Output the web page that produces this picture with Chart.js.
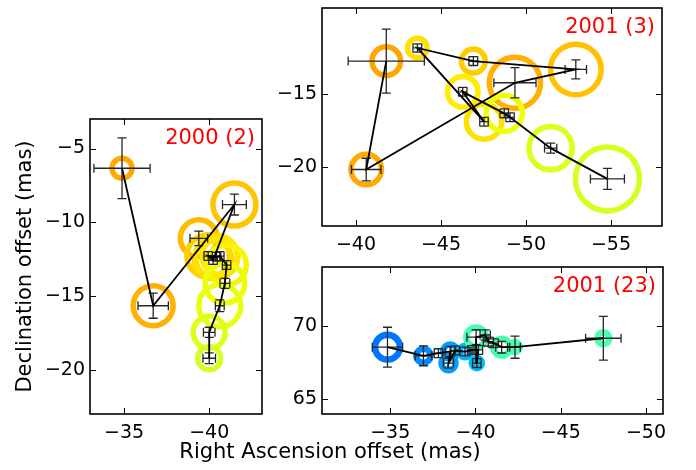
<!DOCTYPE html>
<html>
<head>
<meta charset="utf-8">
<script src="https://cdn.jsdelivr.net/npm/chart.js@4.4.1/dist/chart.umd.min.js"></script>
<style>
  body { margin: 0; background: #fff; }
  #fig { position: relative; width: 696px; height: 470px; overflow: hidden; }
  canvas { position: absolute; }
</style>
</head>
<body>
<div id="fig">
  <canvas id="c2000" width="300" height="470" style="left:0;top:0"></canvas>
  <canvas id="c2001a" width="456" height="280" style="left:240px;top:-20px"></canvas>
  <canvas id="c2001b" width="696" height="230" style="left:0;top:240px"></canvas>
</div>
<script>
// Maser spot positions per epoch: offsets (mas), errors (mas), flux, velocity (km/s)
// track* = order in which the spots are joined by the black line

// 2000, epoch 2
const ra2000 = [-34.88, -36.71, -41.48, -39.39, -39.94, -40.23, -40.43, -40.62, -41.02, -40.92, -40.62, -40.0, -40.0];
const dec2000 = [-6.34, -15.66, -8.8, -11.09, -12.29, -12.56, -12.34, -12.29, -12.9, -14.14, -15.66, -17.46, -19.22];
const raErr2000 = [1.65, 0.89, 0.7, 0.52, 0.25, 0.25, 0.25, 0.25, 0.25, 0.29, 0.26, 0.34, 0.37];
const decErr2000 = [2.06, 0.85, 0.71, 0.49, 0.3, 0.3, 0.3, 0.3, 0.3, 0.34, 0.4, 0.34, 0.37];
const flux2000 = [1.0, 4.0, 4.62, 3.42, 4.54, 3.53, 4.54, 3.17, 3.92, 3.92, 4.41, 2.56, 1.32];
const vel2000 = [16.5, 16.2, 15.15, 15.6, 14.5, 14.0, 13.6, 13.2, 12.55, 12.05, 11.6, 11.1, 10.4];
const track2000 = [0, 1, 2, 5, 4, 6, 7, 8, 9, 10, 11, 12];

// 2001, epoch 3
const ra2001a = [-41.78, -40.6, -43.61, -46.9, -52.93, -49.35, -46.28, -47.53, -48.72, -49.06, -51.45, -54.79];
const dec2001a = [-12.73, -20.14, -11.83, -12.73, -13.3, -14.21, -14.83, -16.87, -16.3, -16.57, -18.68, -20.78];
const raErr2001a = [2.24, 0.87, 0.26, 0.26, 0.63, 1.24, 0.25, 0.25, 0.25, 0.25, 0.36, 1.0];
const decErr2001a = [2.19, 0.77, 0.28, 0.3, 0.65, 1.03, 0.3, 0.3, 0.3, 0.3, 0.34, 0.72];
const flux2001a = [2.04, 2.34, 0.96, 1.44, 6.4, 6.55, 2.34, 3.1, 3.28, 0, 4.67, 10.24];
const vel2001a = [16.75, 16.5, 13.6, 14.7, 15.3, 16.2, 13.0, 13.6, 12.0, 12.0, 10.85, 10.4];
const track2001a = [0, 1, 5, 4, 3, 2, 7, 6, 8, 9, 10, 11];

// 2001, epoch 23
const ra2001b = [-34.84, -36.95, -37.83, -38.52, -38.42, -38.81, -39.39, -39.8, -40.17, -40.08, -40.04, -40.57, -40.76, -41.05, -41.54, -42.32, -47.5];
const dec2001b = [68.57, 67.98, 68.16, 68.27, 67.48, 68.34, 68.27, 68.38, 68.38, 67.48, 69.25, 69.4, 68.95, 68.84, 68.57, 68.57, 69.18];
const raErr2001b = [0.89, 0.49, 0.25, 0.3, 0.3, 0.25, 0.3, 0.25, 0.25, 0.25, 0.54, 0.3, 0.3, 0.3, 0.35, 0.31, 1.04];
const decErr2001b = [1.36, 0.68, 0.3, 0.35, 0.35, 0.3, 0.3, 0.3, 0.3, 0.3, 0.51, 0.35, 0.3, 0.3, 0.4, 0.76, 1.5];
const flux2001b = [1.55, 0.5, 0, 0.5, 0.5, 0, 0.33, 0, 0, 0.26, 0.95, 0, 0, 0, 0.71, 0.23, 0.35];
const vel2001b = [-7.9, -7.0, -6.5, -6.0, -6.0, -5.5, -4.75, -4.75, -4.75, -4.5, 1.5, 1.5, 1.7, 1.8, 1.8, 2.0, 2.0];
const track2001b = [0, 1, 2, 3, 4, 5, 6, 7, 8, 9, 10, 11, 12, 13, 14, 15, 16];

// axis limits and ticks
const xLim2000 = [-43.1, -33];
const yLim2000 = [-23, -3];
const xTicks2000 = [-35, -40];
const yTicks2000 = [-5, -10, -15, -20];

const xLim2001a = [-58, -38];
const yLim2001a = [-24, -9.1];
const xTicks2001a = [-40, -45, -50, -55];
const yTicks2001a = [-15, -20];

const xLim2001b = [-51, -31];
const yLim2001b = [64, 74.05];
const xTicks2001b = [-35, -40, -45, -50];
const yTicks2001b = [65, 70];

const VEL_MIN = -20;
const VEL_MAX = 30;

// Constants --------------------
const FONT = "'DejaVu Sans', sans-serif";
const CAP = 4.5;
const TICK_LEN = 6;

// matplotlib jet
const JET = {
  r: [[0, 0], [0.35, 0], [0.66, 1], [0.89, 1], [1, 0.5]],
  g: [[0, 0], [0.125, 0], [0.375, 1], [0.64, 1], [0.91, 0], [1, 0]],
  b: [[0, 0.5], [0.11, 1], [0.34, 1], [0.65, 0], [1, 0]],
};

const lerpStops = (stops, t) => {
  for (let i = 1; i < stops.length; i++) {
    const [x0, y0] = stops[i - 1];
    const [x1, y1] = stops[i];
    if (t <= x1) return y0 + ((y1 - y0) * (t - x0)) / (x1 - x0);
  }
  return stops[stops.length - 1][1];
};

const jet = v => {
  const t = Math.min(1, Math.max(0, (v - VEL_MIN) / (VEL_MAX - VEL_MIN)));
  const c = k => Math.round(255 * lerpStops(JET[k], t));
  return `rgb(${c('r')}, ${c('g')}, ${c('b')})`;
};

const minus = v => (v < 0 ? '\u2212' + Math.abs(v) : String(v));

// Plugins ----------------------
// error bars go on top of the rings (dataset 1) but under the track line
const errorBars = p => ({
  id: 'errorBars',
  afterDatasetDraw(chart, args) {
    if (args.index !== 1) return;
    const { ctx, scales: { x, y } } = chart;
    ctx.save();
    ctx.strokeStyle = '#262626';
    ctx.lineWidth = 1.3;
    ctx.beginPath();
    p.ra.forEach((ra, i) => {
      const px = x.getPixelForValue(ra);
      const py = y.getPixelForValue(p.dec[i]);
      const x0 = x.getPixelForValue(ra - p.raErr[i]);
      const x1 = x.getPixelForValue(ra + p.raErr[i]);
      const y0 = y.getPixelForValue(p.dec[i] - p.decErr[i]);
      const y1 = y.getPixelForValue(p.dec[i] + p.decErr[i]);
      ctx.moveTo(x0, py);
      ctx.lineTo(x1, py);
      ctx.moveTo(px, y0);
      ctx.lineTo(px, y1);
      [x0, x1].forEach(cx => {
        ctx.moveTo(cx, py - CAP);
        ctx.lineTo(cx, py + CAP);
      });
      [y0, y1].forEach(cy => {
        ctx.moveTo(px - CAP, cy);
        ctx.lineTo(px + CAP, cy);
      });
    });
    ctx.stroke();
    ctx.restore();
  },
});

// box round the axes, ticks pointing inwards on all four sides
const frame = {
  id: 'frame',
  afterDatasetsDraw(chart) {
    const { ctx, chartArea: a, scales: { x, y } } = chart;
    ctx.save();
    ctx.strokeStyle = '#000';
    ctx.lineWidth = 1;
    ctx.beginPath();
    x.ticks.forEach(t => {
      const px = Math.round(x.getPixelForValue(t.value)) + 0.5;
      ctx.moveTo(px, a.bottom);
      ctx.lineTo(px, a.bottom - TICK_LEN);
      ctx.moveTo(px, a.top);
      ctx.lineTo(px, a.top + TICK_LEN);
    });
    y.ticks.forEach(t => {
      const py = Math.round(y.getPixelForValue(t.value)) + 0.5;
      ctx.moveTo(a.left, py);
      ctx.lineTo(a.left + TICK_LEN, py);
      ctx.moveTo(a.right, py);
      ctx.lineTo(a.right - TICK_LEN, py);
    });
    ctx.stroke();
    ctx.lineWidth = 1.6;
    ctx.strokeRect(a.left, a.top, a.right - a.left, a.bottom - a.top);
    ctx.restore();
  },
};

const panelLabel = text => ({
  id: 'panelLabel',
  afterDraw(chart) {
    const { ctx, chartArea: a } = chart;
    ctx.save();
    ctx.font = `21px ${FONT}`;
    ctx.fillStyle = '#ff0000';
    ctx.textAlign = 'right';
    ctx.textBaseline = 'middle';
    ctx.fillText(text, a.right - 7, a.top + 20);
    ctx.restore();
  },
});

const raTitle = {
  id: 'raTitle',
  afterDraw(chart) {
    const { ctx } = chart;
    ctx.save();
    ctx.font = `21px ${FONT}`;
    ctx.fillStyle = '#000';
    ctx.textAlign = 'center';
    ctx.textBaseline = 'middle';
    ctx.fillText('Right Ascension offset (mas)', 330, 213);
    ctx.restore();
  },
};

// Chart builder ----------------
const makePanel = (id, p) => {
  const points = p.ra.map((ra, i) => ({ x: ra, y: p.dec[i] }));
  const tickFont = { family: FONT, size: 19 };

  return new Chart(document.getElementById(id), {
    type: 'scatter',
    data: {
      datasets: [
        {
          data: p.track.map(i => points[i]),
          showLine: true,
          borderColor: '#000',
          borderWidth: 1.8,
          pointRadius: 0,
          tension: 0,
          order: 1,
        },
        {
          data: points,
          pointRadius: p.flux.map(f => 10 * Math.sqrt(f)),
          pointBorderColor: p.vel.map(jet),
          pointBackgroundColor: 'rgba(0, 0, 0, 0)',
          pointBorderWidth: p.ringWidth,
          order: 2,
        },
      ],
    },
    options: {
      responsive: false,
      animation: false,
      events: [],
      layout: { padding: p.padding, autoPadding: false },
      plugins: { legend: { display: false }, tooltip: { enabled: false } },
      scales: {
        x: {
          type: 'linear',
          min: p.xLim[0],
          max: p.xLim[1],
          reverse: true,
          grid: { display: false, drawTicks: false },
          border: { display: false },
          ticks: { font: tickFont, color: '#000', padding: 8, maxRotation: 0, autoSkip: false, callback: minus },
          afterBuildTicks: s => {
            s.ticks = p.xTicks.map(value => ({ value }));
          },
          afterFit: s => {
            s.height = 30;
          },
        },
        y: {
          type: 'linear',
          min: p.yLim[0],
          max: p.yLim[1],
          grid: { display: false, drawTicks: false },
          border: { display: false },
          ticks: { font: tickFont, color: '#000', padding: 5, autoSkip: false, callback: minus },
          title: p.yTitle
            ? { display: true, text: p.yTitle, color: '#000', font: { family: FONT, size: 21 }, padding: { top: 13, bottom: 0 } }
            : { display: false },
          afterBuildTicks: s => {
            s.ticks = p.yTicks.map(value => ({ value }));
          },
          afterFit: s => {
            s.width = p.yWidth;
          },
        },
      },
    },
    plugins: [errorBars(p), frame, panelLabel(p.label), ...(p.extra || [])],
  });
};

makePanel('c2000', {
  ra: ra2000, dec: dec2000, raErr: raErr2000, decErr: decErr2000,
  flux: flux2000, vel: vel2000, track: track2000,
  xLim: xLim2000, yLim: yLim2000, xTicks: xTicks2000, yTicks: yTicks2000,
  label: '2000 (2)',
  yTitle: 'Declination offset (mas)',
  yWidth: 90,
  ringWidth: 5.5,
  padding: { top: 119, right: 38, bottom: 26, left: 0 },
});

makePanel('c2001a', {
  ra: ra2001a, dec: dec2001a, raErr: raErr2001a, decErr: decErr2001a,
  flux: flux2001a, vel: vel2001a, track: track2001a,
  xLim: xLim2001a, yLim: yLim2001a, xTicks: xTicks2001a, yTicks: yTicks2001a,
  label: '2001 (3)',
  yWidth: 82,
  ringWidth: 5.5,
  padding: { top: 28, right: 34, bottom: 4, left: 0 },
});

makePanel('c2001b', {
  ra: ra2001b, dec: dec2001b, raErr: raErr2001b, decErr: decErr2001b,
  flux: flux2001b, vel: vel2001b, track: track2001b,
  xLim: xLim2001b, yLim: yLim2001b, xTicks: xTicks2001b, yTicks: yTicks2001b,
  label: '2001 (23)',
  yWidth: 322,
  ringWidth: 6.5,
  padding: { top: 27, right: 33, bottom: 26, left: 0 },
  extra: [raTitle],
});
</script>
</body>
</html>
